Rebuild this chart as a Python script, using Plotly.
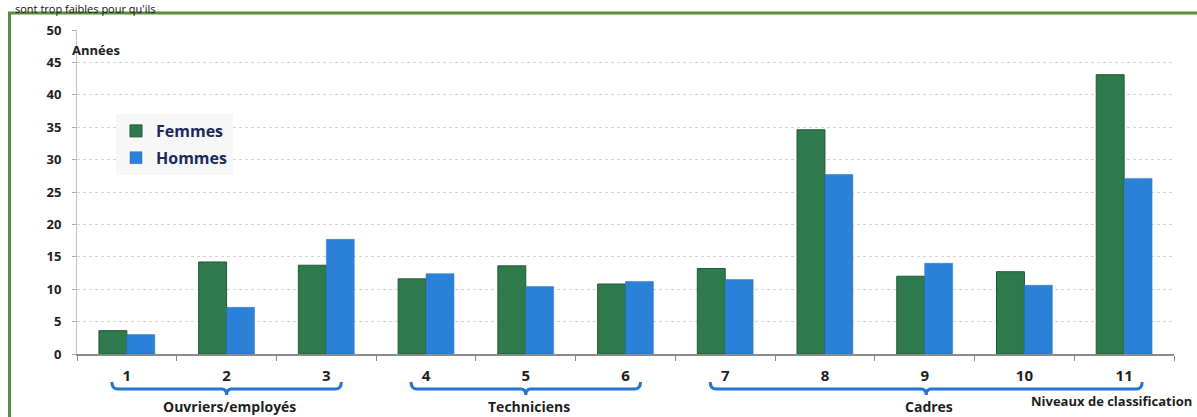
import plotly.graph_objects as go

# ---- data ----
niveaux = ["1", "2", "3", "4", "5", "6", "7", "8", "9", "10", "11"]
femmes = [3.6, 14.2, 13.7, 11.6, 13.6, 10.8, 13.2, 34.6, 12.0, 12.7, 43.1]
hommes = [3.0, 7.2, 17.7, 12.4, 10.4, 11.2, 11.5, 27.7, 14.0, 10.6, 27.1]
groupes = ["Ouvriers/employés", "Techniciens", "Cadres"]
groupe_niveaux = [("1", "3"), ("4", "6"), ("7", "11")]
y_ticks = [0, 5, 10, 15, 20, 25, 30, 35, 40, 45, 50]

W, H = 1197, 417
L, R, T, B = 77, 23, 30, 63
PW, PH = W - L - R, H - T - B

def px_x(p):  # pixel -> paper x
    return (p - L) / PW

def px_y(p):  # pixel -> paper y
    return (H - B - p) / PH

GREEN = "#2f7a4c"
BLUE = "#2b80d8"
TXT = "#1e1e1e"
FONT = "Open Sans"

fig = go.Figure()
fig.add_trace(go.Bar(x=niveaux, y=femmes, name="Femmes", marker_color=GREEN,
                     marker_line=dict(color="#1f5a36", width=1), legendgroup="f"))
fig.add_trace(go.Bar(x=niveaux, y=hommes, name="Hommes", marker_color=BLUE,
                     marker_line=dict(color="#2a74c4", width=0.5), legendgroup="h"))

fig.update_layout(
    width=W, height=H,
    margin=dict(l=L, r=R, t=T, b=B, pad=0),
    paper_bgcolor="white", plot_bgcolor="white",
    barmode="group", bargap=0.44, bargroupgap=0,
    font=dict(family=FONT, color=TXT),
    showlegend=True,
    legend=dict(x=px_x(116), y=px_y(114), xanchor="left", yanchor="top",
                bgcolor="#f7f7f7", traceorder="grouped", tracegroupgap=3,
                font=dict(family=FONT, size=16, color="#1c2a5a", weight="bold"),
                itemwidth=30),
)

fig.update_xaxes(type="category", tickson="boundaries", ticks="outside", ticklen=5,
                 tickcolor="#888", showline=True, linecolor="#8a8a8a", linewidth=1.5,
                 showgrid=False, tickfont=dict(size=15, color=TXT, weight="bold"),
                 ticklabelstandoff=7)
fig.update_yaxes(range=[0, 50], tickvals=y_ticks, ticks="outside", ticklen=4,
                 tickcolor="#aaa", showline=True, linecolor="#c4c4c4", linewidth=1,
                 showgrid=True, gridcolor="#d4d4d4", griddash="dot", gridwidth=1,
                 zeroline=False, tickfont=dict(size=13, color=TXT, weight="bold"),
                 ticklabelstandoff=8)

shapes = []
annotations = []

# green frame of the scanned page
shapes.append(dict(type="line", xref="paper", yref="paper",
                   x0=px_x(8), x1=px_x(W + 5), y0=px_y(13), y1=px_y(13),
                   line=dict(color="#5f8c3a", width=3)))
shapes.append(dict(type="line", xref="paper", yref="paper",
                   x0=px_x(9.5), x1=px_x(9.5), y0=px_y(12), y1=px_y(H + 5),
                   line=dict(color="#5f8c3a", width=3)))

# group braces
cat_w = PW / len(niveaux)
def cat_center(label):
    return L + (niveaux.index(label) + 0.5) * cat_w

for name, (a, b) in zip(groupes, groupe_niveaux):
    x0 = cat_center(a) - 15
    x1 = cat_center(b) + 15
    if b == niveaux[-1]:
        x1 = cat_center(b) + 18
    xc = (x0 + x1) / 2
    yb, yt, yn = 389, 382, 395
    path = (f"M {px_x(x0)},{px_y(yt)} Q {px_x(x0)},{px_y(yb)} {px_x(x0 + 6)},{px_y(yb)} "
            f"L {px_x(xc - 5)},{px_y(yb)} Q {px_x(xc)},{px_y(yb)} {px_x(xc)},{px_y(yn)} "
            f"Q {px_x(xc)},{px_y(yb)} {px_x(xc + 5)},{px_y(yb)} "
            f"L {px_x(x1 - 6)},{px_y(yb)} Q {px_x(x1)},{px_y(yb)} {px_x(x1)},{px_y(yt)}")
    shapes.append(dict(type="path", xref="paper", yref="paper", path=path,
                       line=dict(color="#2474d0", width=3)))
    annotations.append(dict(text=name, xref="paper", yref="paper",
                            x=px_x(xc + 3), y=px_y(406), xanchor="center", yanchor="middle",
                            showarrow=False, font=dict(size=14, color=TXT, weight="bold")))

annotations.append(dict(text="Niveaux de classification", xref="paper", yref="paper",
                        x=px_x(1194), y=px_y(401), xanchor="right", yanchor="middle",
                        showarrow=False, font=dict(size=13, color=TXT, weight="bold")))
annotations.append(dict(text="Années", xref="paper", yref="paper",
                        x=px_x(70), y=px_y(50), xanchor="left", yanchor="middle",
                        showarrow=False, font=dict(size=13, color=TXT, weight="bold")))
# text from the page above the chart (cut off in the scan; kept fully visible here)
annotations.append(dict(text="sont trop faibles pour qu'ils", xref="paper", yref="paper",
                        x=px_x(14), y=px_y(0.5), xanchor="left", yanchor="top",
                        borderpad=0, showarrow=False, font=dict(size=11, color="#111")))

fig.update_layout(shapes=shapes, annotations=annotations)
fig.write_html("out.html", config={"displayModeBar": False},
               post_script="document.body.style.margin='0';document.body.style.overflow='hidden';")
